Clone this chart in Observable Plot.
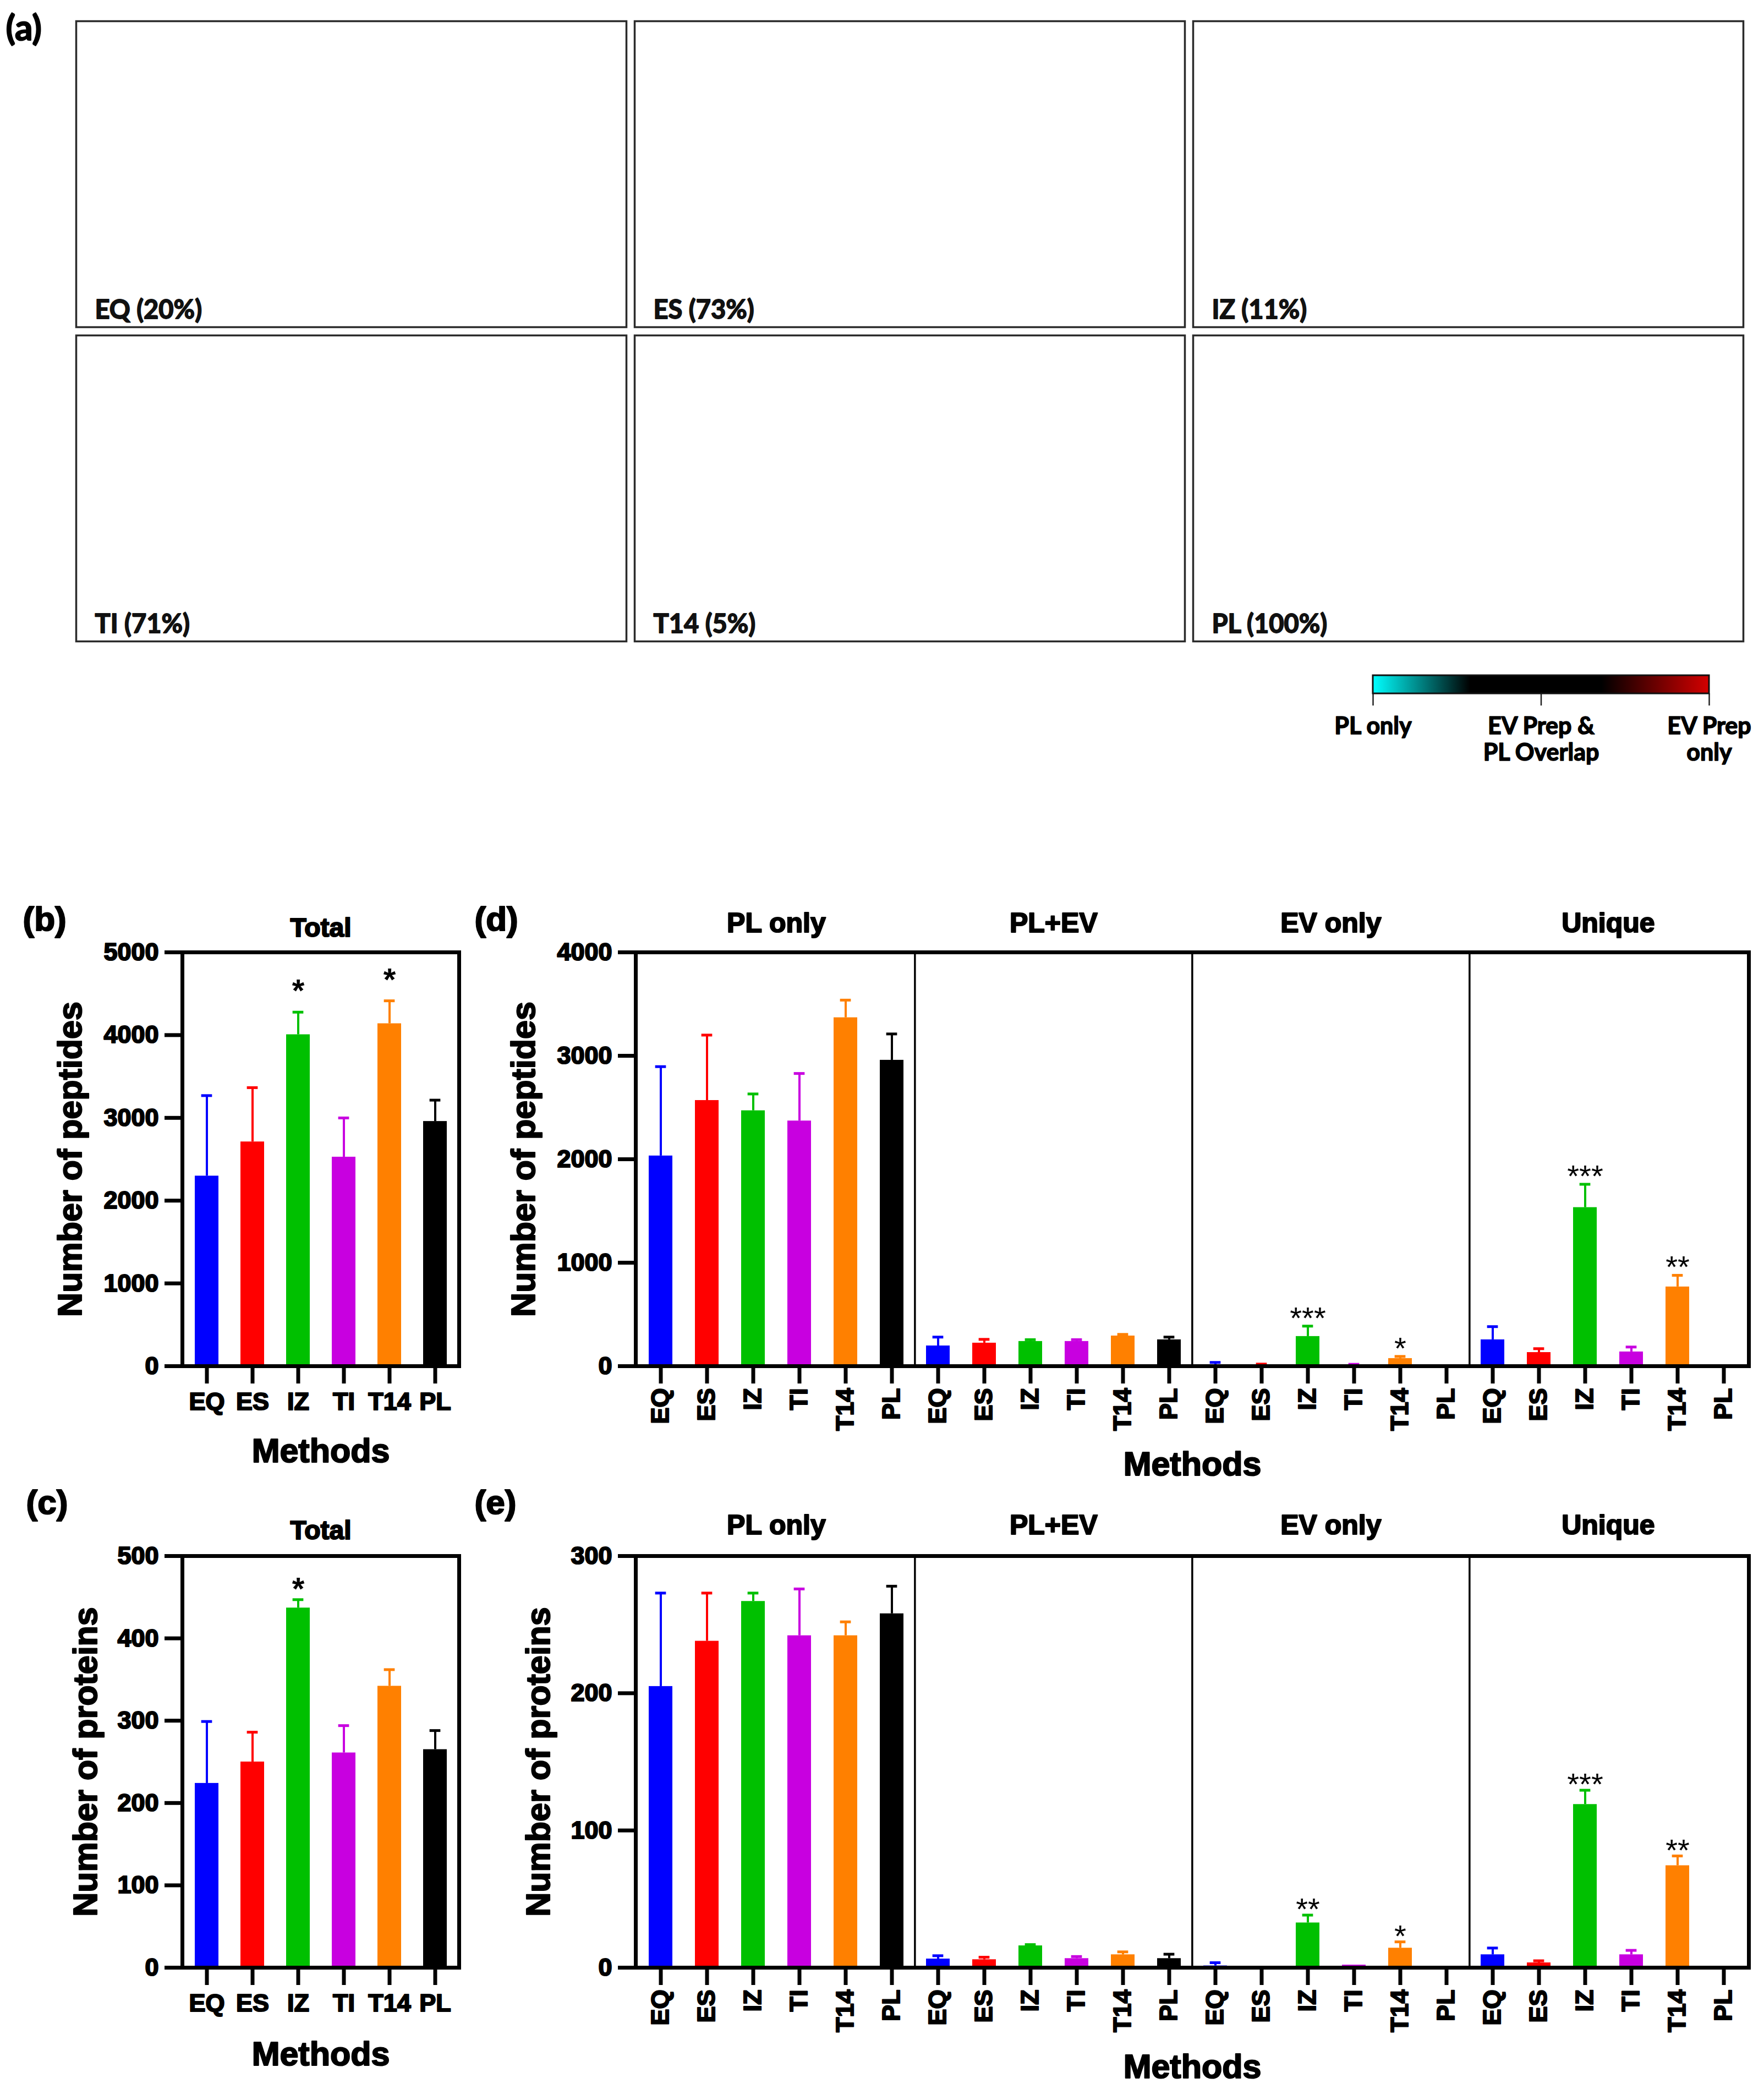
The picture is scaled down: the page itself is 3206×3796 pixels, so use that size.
<!DOCTYPE html>
<html>
<head>
<meta charset="utf-8">
<script src="https://cdn.jsdelivr.net/npm/d3@7"></script>
<script src="https://cdn.jsdelivr.net/npm/@observablehq/plot@0.6"></script>
<style>
  html, body { margin: 0; padding: 0; background: #fff; }
  #fig { position: relative; width: 3206px; height: 3796px; background: #fff; overflow: hidden; }
  #fig svg { position: absolute; max-width: none; }
</style>
</head>
<body>
<div id="fig"></div>
<script>
// ---------------- data ----------------
const methods = ["EQ", "ES", "IZ", "TI", "T14", "PL"];
const methodColors = ["#0000FF", "#FF0000", "#00C000", "#C800E0", "#FF8000", "#000000"];
const sections = ["PL only", "PL+EV", "EV only", "Unique"];

const gelNames = ["EQ", "ES", "IZ", "TI", "T14", "PL"];
const gelPercents = [20, 73, 11, 71, 5, 100];

const legendTicks = [0, 0.5, 1];
const legendLabels = ["PL only", "EV Prep &\nPL Overlap", "EV Prep\nonly"];
const legendStops = [0, 0.29, 0.68, 1];
const legendColors = ["#00FFFF", "#000000", "#000000", "#D40000"];

// (b) total peptides
const totalPeptidesMean = [2298, 2711, 4006, 2527, 4139, 2958];
const totalPeptidesSD = [971, 654, 271, 472, 275, 256];
const totalPeptidesStars = ["", "", "*", "", "*", ""];
// (c) total proteins
const totalProteinsMean = [224, 250, 437, 261, 342, 265];
const totalProteinsSD = [75, 36, 10, 33, 20, 23];
const totalProteinsStars = ["", "", "*", "", "", ""];
// (d) peptides per section (PL only, PL+EV, EV only, Unique)
const sectionPeptidesMean = [
  [2033, 2569, 2470, 2371, 3369, 2958],
  [197, 224, 240, 240, 293, 256],
  [9, 8, 288, 10, 75, 0],
  [256, 133, 1534, 139, 767, 0]
];
const sectionPeptidesSD = [
  [862, 631, 161, 458, 169, 253],
  [84, 35, 16, 16, 14, 25],
  [27, 12, 99, 8, 19, 0],
  [126, 36, 224, 46, 111, 0]
];
const sectionPeptidesStars = [
  ["", "", "", "", "", ""],
  ["", "", "", "", "", ""],
  ["", "", "***", "", "*", ""],
  ["", "", "***", "", "**", ""]
];
// (e) proteins per section
const sectionProteinsMean = [
  [205, 238, 267, 242, 242, 258],
  [6.4, 5.9, 16, 6.7, 9.5, 6.7],
  [1.4, 0.8, 32.7, 2, 14.3, 0],
  [9.5, 3.6, 119, 9.5, 74.4, 0]
];
const sectionProteinsSD = [
  [68, 35, 6, 34, 10, 20],
  [2.3, 1.7, 0.8, 1.4, 2.0, 3.1],
  [2.2, 0, 5.6, 0, 4.5, 0],
  [4.8, 1.4, 10.3, 3.1, 7.0, 0]
];
const sectionProteinsStars = [
  ["", "", "", "", "", ""],
  ["", "", "", "", "", ""],
  ["", "", "**", "", "*", ""],
  ["", "", "***", "", "**", ""]
];

const peptideTicks = [0, 1000, 2000, 3000, 4000, 5000];
const proteinTicks = [0, 100, 200, 300, 400, 500];
const sectionPeptideTicks = [0, 1000, 2000, 3000, 4000];
const sectionProteinTicks = [0, 100, 200, 300];

// ---------------- helpers ----------------
const fig = document.getElementById("fig");
function place(el, left, top) {
  el.style.left = left + "px";
  el.style.top = top + "px";
  fig.appendChild(el);
}
const chartFont = "'Liberation Sans', Arial, Helvetica, sans-serif";
const gelFont = "Lato, 'Open Sans', sans-serif";
const heavy = {stroke: "#000", strokeWidth: 2.2};

function totalRows(mean, sd, stars) {
  return methods.map((m, i) => ({key: m, m, v: mean[i], sd: sd[i], e: mean[i] + sd[i], star: stars[i]}));
}
function sectionRows(mean, sd, stars) {
  return sections.flatMap((s, si) => methods.map((m, i) => ({
    key: s + "|" + m, m, v: mean[si][i], sd: sd[si][i], e: mean[si][i] + sd[si][i], star: stars[si][i]
  })));
}

function barPanel(p) {
  const keys = p.rows.map(d => d.key);
  const n = keys.length;
  const step = (p.fR - p.fL) / n;
  const bw = 43.3;
  const pin = 1 - bw / step;
  const capInset = (bw - 20) / 2;
  const withErr = p.rows.filter(d => d.sd > 0);
  const marks = [
    Plot.barY(p.rows, {x: "key", y: "v", fill: "m"}),
    Plot.ruleX(withErr, {x: "key", y1: "v", y2: "e", stroke: "m", strokeWidth: 4}),
    Plot.tickY(withErr, {x: "key", y: "e", stroke: "m", strokeWidth: 5, insetLeft: capInset, insetRight: capInset}),
    Plot.text(p.rows.filter(d => d.star), {x: "key", y: "e", text: "star", lineAnchor: "bottom",
      dy: p.starDy, fontSize: p.starSize, fontWeight: p.starWeight, fill: "#000"})
  ];
  if (p.sectioned) {
    marks.push(Plot.ruleX(sections.slice(1).map(s => s + "|" + methods[0]),
      {x: d => d, dx: -step / 2, stroke: "#000", strokeWidth: 3.5}));
    marks.push(Plot.text(sections, {x: s => s + "|" + methods[3], dx: -step / 2, frameAnchor: "top",
      dy: p.titleDy, lineAnchor: "bottom", fontSize: 50, fill: "#000", ...heavy}));
  } else {
    marks.push(Plot.text([p.title], {frameAnchor: "top", dy: p.titleDy, lineAnchor: "bottom", fontSize: 48,
      fill: "#000", ...heavy}));
  }
  marks.push(
    Plot.frame({stroke: "#000", strokeWidth: 7}),
    Plot.axisY({ticks: p.yTicks, tickSize: 32, tickPadding: 11, tickFormat: d => String(d),
      fontSize: 45, strokeWidth: 7, textStroke: "#000", textStrokeWidth: 2.2, label: null}),
    Plot.axisX({tickSize: 32, tickPadding: p.sectioned ? 8 : 16, tickRotate: p.sectioned ? -90 : 0,
      tickFormat: k => k.split("|").pop(), fontSize: 45, strokeWidth: 7, textStroke: "#000", textStrokeWidth: 2.2,
      label: null}),
    Plot.text([p.yLabel], {frameAnchor: "left", rotate: -90, dx: p.yLabelDx, fontSize: 61,
      textAnchor: "middle", lineAnchor: "middle", fill: "#000", ...heavy}),
    Plot.text(["Methods"], {frameAnchor: "bottom", dy: p.methodsDy, lineAnchor: "bottom", fontSize: 61,
      textAnchor: "middle", fill: "#000", ...heavy}),
    Plot.text([p.letter], {frameAnchor: "top-left", dx: p.letterDx, dy: p.letterDy, textAnchor: "start",
      lineAnchor: "bottom", fontSize: 62, fill: "#000", ...heavy})
  );
  const svg = Plot.plot({
    width: p.svgW, height: p.svgH,
    marginLeft: p.fL - p.svgL, marginRight: p.svgL + p.svgW - p.fR,
    marginTop: p.fT - p.svgT, marginBottom: p.svgT + p.svgH - p.fB,
    x: {type: "band", domain: keys, paddingInner: pin, paddingOuter: pin / 2, align: 0.5},
    y: {domain: p.yDomain},
    color: {domain: methods, range: methodColors},
    style: {fontFamily: chartFont, fontWeight: "bold", color: "#000", background: "transparent", overflow: "visible"},
    marks
  });
  place(svg, p.svgL, p.svgT);
}

// ---------------- (a) gel panels ----------------
const gelCols = [138, 1153, 2168];
const gelRows = [38, 609];
const gelW = 1000, gelH = 556, gelPad = 6;
gelNames.forEach((name, i) => {
  const svg = Plot.plot({
    width: gelW + 2 * gelPad, height: gelH + 2 * gelPad, margin: gelPad,
    style: {background: "transparent", overflow: "visible"},
    marks: [
      Plot.frame({stroke: "#2b2b2b", strokeWidth: 3.5}),
      Plot.text([`${name} (${gelPercents[i]}%)`], {frameAnchor: "bottom-left", dx: 34, dy: -16,
        textAnchor: "start", lineAnchor: "bottom", fontSize: 47, fontWeight: "bold",
        fontFamily: gelFont, fill: "#111", stroke: "#111", strokeWidth: 1.8})
    ]
  });
  place(svg, gelCols[i % 3] - gelPad, gelRows[Math.floor(i / 3)] - gelPad);
});
// (a) letter
{
  const svg = Plot.plot({
    width: 130, height: 110, margin: 0,
    style: {background: "transparent", overflow: "visible"},
    marks: [Plot.text(["(a)"], {frameAnchor: "top-left", dx: 10, dy: 70, textAnchor: "start", lineAnchor: "bottom",
      fontSize: 64, fontWeight: "bold", fontFamily: gelFont, fill: "#000", stroke: "#000", strokeWidth: 2})]
  });
  place(svg, 0, 2);
}

// ---------------- legend ----------------
function gradientBar(index, scales, values, dims) {
  const ns = "http://www.w3.org/2000/svg";
  const g = document.createElementNS(ns, "g");
  const defs = document.createElementNS(ns, "defs");
  const lg = document.createElementNS(ns, "linearGradient");
  lg.setAttribute("id", "legendGradient");
  lg.setAttribute("x1", "0"); lg.setAttribute("x2", "1");
  lg.setAttribute("y1", "0"); lg.setAttribute("y2", "0");
  legendStops.forEach((s, i) => {
    const st = document.createElementNS(ns, "stop");
    st.setAttribute("offset", s);
    st.setAttribute("stop-color", legendColors[i]);
    lg.appendChild(st);
  });
  defs.appendChild(lg);
  g.appendChild(defs);
  const x0 = scales.x(legendTicks[0]), x1 = scales.x(legendTicks[legendTicks.length - 1]);
  const r = document.createElementNS(ns, "rect");
  r.setAttribute("x", x0); r.setAttribute("y", dims.marginTop);
  r.setAttribute("width", x1 - x0); r.setAttribute("height", 33);
  r.setAttribute("fill", "url(#legendGradient)");
  r.setAttribute("stroke", "#111"); r.setAttribute("stroke-width", 3);
  g.appendChild(r);
  return g;
}
{
  const L = 2340, T = 1190, Wd = 866, Ht = 215;
  const svg = Plot.plot({
    width: Wd, height: Ht, marginLeft: 2495 - L, marginRight: L + Wd - 3106, marginTop: 37, marginBottom: 0,
    x: {domain: [legendTicks[0], legendTicks[legendTicks.length - 1]], axis: null},
    style: {background: "transparent", overflow: "visible"},
    marks: [
      Plot.ruleX(legendTicks, {x: d => d, insetTop: 33, insetBottom: Ht - 37 - 33 - 22, stroke: "#222", strokeWidth: 2.5}),
      gradientBar,
      Plot.text(legendTicks, {x: d => d, text: (d, i) => legendLabels[i], frameAnchor: "top", lineAnchor: "top",
        dy: 72, fontSize: 43, lineHeight: 1.12, fontWeight: "bold", fontFamily: gelFont, fill: "#000",
        stroke: "#000", strokeWidth: 1.6})
    ]
  });
  place(svg, L, T);
}

// ---------------- (b) ----------------
barPanel({
  rows: totalRows(totalPeptidesMean, totalPeptidesSD, totalPeptidesStars),
  yDomain: [0, 5000], yTicks: peptideTicks,
  svgL: 0, svgT: 1620, svgW: 858, svgH: 1080,
  fL: 331, fR: 834, fT: 1730, fB: 2482,
  title: "Total", titleDy: -29, yLabel: "Number of peptides", yLabelDx: -203,
  methodsDy: 174, letter: "(b)", letterDx: -290, letterDy: -40,
  starDy: -19, starSize: 58, starWeight: "bold"
});
// ---------------- (c) ----------------
barPanel({
  rows: totalRows(totalProteinsMean, totalProteinsSD, totalProteinsStars),
  yDomain: [0, 500], yTicks: proteinTicks,
  svgL: 0, svgT: 2700, svgW: 858, svgH: 1096,
  fL: 331, fR: 834, fT: 2827, fB: 3575,
  title: "Total", titleDy: -31, yLabel: "Number of proteins", yLabelDx: -175,
  methodsDy: 177, letter: "(c)", letterDx: -284, letterDy: -77,
  starDy: 0, starSize: 58, starWeight: "bold"
});
// ---------------- (d) ----------------
barPanel({
  rows: sectionRows(sectionPeptidesMean, sectionPeptidesSD, sectionPeptidesStars), sectioned: true,
  yDomain: [0, 4000], yTicks: sectionPeptideTicks,
  svgL: 860, svgT: 1620, svgW: 2346, svgH: 1080,
  fL: 1155, fR: 3178, fT: 1730, fB: 2482,
  titleDy: -37, yLabel: "Number of peptides", yLabelDx: -203,
  methodsDy: 198, letter: "(d)", letterDx: -293, letterDy: -40,
  starDy: 4, starSize: 56, starWeight: "normal"
});
// ---------------- (e) ----------------
barPanel({
  rows: sectionRows(sectionProteinsMean, sectionProteinsSD, sectionProteinsStars), sectioned: true,
  yDomain: [0, 300], yTicks: sectionProteinTicks,
  svgL: 860, svgT: 2700, svgW: 2346, svgH: 1096,
  fL: 1155, fR: 3178, fT: 2827, fB: 3575,
  titleDy: -40, yLabel: "Number of proteins", yLabelDx: -176,
  methodsDy: 200, letter: "(e)", letterDx: -293, letterDy: -77,
  starDy: 8, starSize: 56, starWeight: "normal"
});
</script>
</body>
</html>
